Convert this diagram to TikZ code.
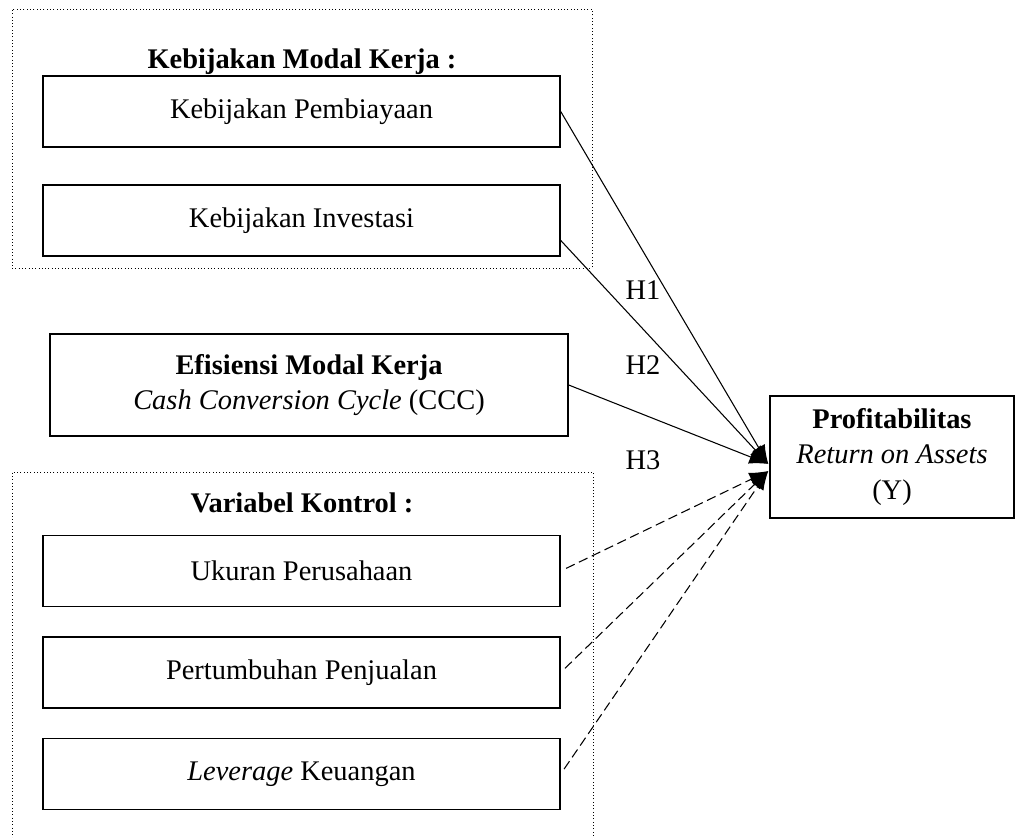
\documentclass[tikz,border=0pt]{standalone}
\usepackage{fontspec}
\setmainfont{Liberation Serif}
\usetikzlibrary{arrows.meta, positioning, calc}
\newcommand{\px}{0.422pt}

\begin{document}
\begin{tikzpicture}[
    x=\px, y=-\px,
    font=\fontsize{12pt}{15pt}\selectfont,
    box/.style={draw, line width=0.6pt, minimum width=517*\px, minimum height=71*\px, inner sep=0pt, align=center},
    grp/.style={draw, densely dotted, line width=0.4pt, inner sep=0pt},
    ttl/.style={font=\fontsize{12pt}{15pt}\selectfont\bfseries},
    hyp/.style={-{Latex[length=8pt, width=6pt]}, line width=0.45pt},
    ctl/.style={hyp, dash pattern=on 4pt off 2pt, shorten <=6*\px}
]
    \useasboundingbox (0,0) rectangle (1016,838);

    % Kebijakan modal kerja
    \node[grp, minimum width=580*\px, minimum height=259*\px] (grpA) at (302,138.5) {};
    \node[ttl] (kmk) at (302,62) {Kebijakan Modal Kerja :};
    \node[box] (pemb) at (301.5,111.5) {Kebijakan Pembiayaan};
    \node[box] (inv) at (301.5,220.5) {Kebijakan Investasi};

    \node[box, minimum width=518*\px, minimum height=102*\px] (efi) at (309,385)
        {\textbf{Efisiensi Modal Kerja}\\ \textit{Cash Conversion Cycle} (CCC)};

    % Variabel kontrol
    \node[grp, minimum width=581*\px, minimum height=370*\px] (grpB) at (302.5,657) {};
    \node[ttl] (vk) at (302,503) {Variabel Kontrol :};
    \node[box] (uk) at (301.5,571) {Ukuran Perusahaan};
    \node[box] (pert) at (301.5,672.5) {Pertumbuhan Penjualan};
    \node[box] (lev) at (301.5,774) {\textit{Leverage} Keuangan};

    \node[box, minimum width=244*\px, minimum height=122*\px] (roa) at (892,457)
        {\textbf{Profitabilitas}\\ \textit{Return on Assets}\\ (Y)};

    \coordinate (tipH) at ($(roa.west)+(-1,7)$);
    \coordinate (tipK) at ($(roa.west)+(-1,14)$);

    \draw[hyp] (pemb.east) -- (tipH);
    \draw[hyp] ($(inv.east)!0.55!(inv.south east)$) -- (tipH);
    \draw[hyp] (efi.east) -- (tipH);
    \draw[ctl] (uk.east) -- (tipK);
    \draw[ctl] (pert.east) -- (tipK);
    \draw[ctl] (lev.east) -- (tipK);

    \node (h1) at (643,290) {H1};
    \node (h2) at (643,365) {H2};
    \node (h3) at (643,460) {H3};
\end{tikzpicture}
\end{document}
